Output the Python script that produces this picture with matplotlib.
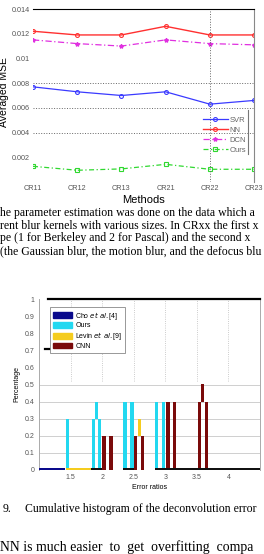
import matplotlib
matplotlib.use('Agg')
import matplotlib.pyplot as plt
from matplotlib.patches import Patch

# ── top chart: averaged MSE per method ──────────────────────────────
methods = ['CR11', 'CR12', 'CR13', 'CR21', 'CR22', 'CR23']
svr = [0.0077, 0.0073, 0.0070, 0.0073, 0.0063, 0.0066]
nn = [0.0122, 0.0119, 0.0119, 0.0126, 0.0119, 0.0119]
dcn = [0.0115, 0.0112, 0.0110, 0.0115, 0.0112, 0.0111]
ours = [0.00127, 0.00095, 0.00106, 0.00143, 0.00103, 0.00103]
mse_ticks = [0.002, 0.004, 0.006, 0.008, 0.01, 0.012, 0.014]
mse_ticklabels = ['0.002', '0.004', '0.006', '0.008', '0.01', '0.012', '0.014']

# ── bottom chart: cumulative histogram strips (center, bottom, top) ─
ours_x = [1.45, 1.86, 1.91, 1.96, 2.36, 2.47, 2.86, 2.97]
ours_lo = [0.0, 0.0, 0.3, 0.0, 0.0, 0.0, 0.0, 0.0]
ours_hi = [0.3, 0.3, 0.4, 0.3, 0.4, 0.4, 0.4, 0.4]
cnn_x = [2.03, 2.14, 2.53, 2.64, 3.04, 3.15, 3.54, 3.59, 3.65]
cnn_lo = [0.0, 0.0, 0.0, 0.0, 0.0, 0.0, 0.0, 0.4, 0.0]
cnn_hi = [0.2, 0.2, 0.2, 0.2, 0.4, 0.4, 0.4, 0.5, 0.4]
levin_x = [2.59]
levin_lo = [0.2]
levin_hi = [0.3]
# zero-level segments along the floor
floor_start = [1.00, 1.42, 1.83, 2.33, 2.83]
floor_end = [1.41, 1.83, 2.00, 2.50, 4.50]
floor_series = ['Cho', 'Levin', 'zero', 'zero', 'zero']
err_ticks = [1.5, 2, 2.5, 3, 3.5, 4]
err_ticklabels = ['1.5', '2', '2.5', '3', '3.5', '4']
pct_ticks = [0, 0.1, 0.2, 0.3, 0.4, 0.5, 0.6, 0.7, 0.8, 0.9, 1]
pct_ticklabels = ['0', '0.1', '0.2', '0.3', '0.4', '0.5', '0.6', '0.7', '0.8', '0.9', '1']

body_lines = [
    "he parameter estimation was done on the data which a",
    "rent blur kernels with various sizes. In CRxx the first x",
    "pe (1 for Berkeley and 2 for Pascal) and the second x",
    "(the Gaussian blur, the motion blur, and the defocus blu",
]
caption_num = "9."
caption = "Cumulative histogram of the deconvolution error"
tail_line = "NN is much easier  to  get  overfitting  compa"

plt.rcParams['font.family'] = ['Liberation Sans', 'DejaVu Sans']

W, H = 264, 554
fig = plt.figure(figsize=(W / 100, H / 100), dpi=100)


def box(l, t, r, b):
    """Pixel box (left, top, right, bottom) -> figure fraction rect."""
    return [l / W, 1 - b / H, (r - l) / W, (b - t) / H]


# ── top chart ───────────────────────────────────────────────────────
ax1 = fig.add_axes(box(33, 9, 254, 182))
xs = list(range(len(methods)))
ax1.plot(xs, svr, color='#3a3aff', lw=0.9, marker='o', ms=2.8, mfc='none', mew=0.8, label='SVR')
ax1.plot(xs, nn, color='#ff3030', lw=1.0, marker='o', ms=2.8, mfc='none', mew=0.8, label='NN')
ax1.plot(xs, dcn, color='#e030e0', lw=0.9, ls=(0, (5, 2, 1, 2)), marker='*', ms=3, label='DCN')
ax1.plot(xs, ours, color='#30d830', lw=0.9, ls=(0, (4, 2, 1, 2)), marker='s', ms=3, mfc='none',
         mew=0.8, label='Ours')
ax1.set_xlim(0, 5)
ax1.set_ylim(0, 0.014)
ax1.set_xticks(xs, methods)
ax1.set_yticks(mse_ticks, mse_ticklabels)
ax1.tick_params(length=0, labelsize=5.2, labelcolor='#555555', pad=2)
for y in (0.004, 0.006, 0.008):
    ax1.axhline(y, color='#666666', ls=':', lw=0.7)
ax1.axvline(4, color='#666666', ls=':', lw=0.7)
for s in ('left', 'bottom'):
    ax1.spines[s].set_visible(False)
ax1.spines['top'].set_linewidth(0.8)
ax1.spines['right'].set_color('#888888')
ax1.set_xlabel('Methods', fontsize=8, labelpad=2)
ax1.set_ylabel('Averaged MSE', fontsize=7.5, labelpad=1)
ax1.yaxis.set_label_coords(-0.108, 0.52)
leg1 = ax1.legend(loc='lower right', bbox_to_anchor=(0.99, 0.13), frameon=False, fontsize=5.5,
                  handlelength=3.2, handletextpad=0.3, labelspacing=0.35, borderpad=0.2)
for t in leg1.get_texts():
    t.set_color('#666666')
ax1.plot([4.87, 4.87], [0.0023, 0.0058], color='#777777', lw=0.8)

# ── body text ───────────────────────────────────────────────────────
serif = ['Liberation Serif', 'DejaVu Serif']
for i, line in enumerate(body_lines):
    fig.text(0 / W, 1 - (213 + 12.7 * i) / H, line, family=serif, fontsize=8.45,
             va='center', ha='left')

# ── bottom chart ────────────────────────────────────────────────────
ax2 = fig.add_axes(box(39, 299, 260, 470))
colors = {'Cho': '#0a0a8c', 'Ours': '#22d8f0', 'Levin': '#f5cc1e', 'CNN': '#7a0a0a', 'zero': '#111111'}
bw = 0.055
for xs_, lo, hi, key in ((ours_x, ours_lo, ours_hi, 'Ours'), (cnn_x, cnn_lo, cnn_hi, 'CNN'),
                         (levin_x, levin_lo, levin_hi, 'Levin')):
    ax2.bar(xs_, [h - l for h, l in zip(hi, lo)], bottom=lo, width=bw, color=colors[key], zorder=3)
for a, b, key in zip(floor_start, floor_end, floor_series):
    ax2.bar(a, 0.014, width=b - a, align='edge', color=colors[key], zorder=4)
ax2.set_xlim(1, 4.5)
ax2.set_ylim(0, 1)
ax2.set_xticks(err_ticks, err_ticklabels)
ax2.set_yticks(pct_ticks, pct_ticklabels)
ax2.tick_params(length=0, labelsize=5, labelcolor='#555555', pad=3)
for y in (0.1, 0.2, 0.3, 0.4, 0.5):
    ax2.axhline(y, color='#cfcfcf', lw=0.7, zorder=1)
for xv in err_ticks:
    ax2.axvline(xv, ymin=0.52, color='#bbbbbb', ls=':', lw=0.6, zorder=1)
for s in ('top', 'bottom'):
    ax2.spines[s].set_visible(False)
for s in ('left', 'right'):
    ax2.spines[s].set_color('#aaaaaa')
    ax2.spines[s].set_linewidth(0.7)
ax2.plot([1.14, 4.5], [1, 1], color='black', lw=1.6, clip_on=False, zorder=5)
ax2.plot([1.09, 2.23], [0.71, 0.71], color='black', lw=1.6, zorder=5)
ax2.set_xlabel('Error ratios', fontsize=5, labelpad=2)
ax2.set_ylabel('Percentage', fontsize=5, labelpad=3)
handles = [Patch(color=colors['Cho']), Patch(color=colors['Ours']),
           Patch(color=colors['Levin']), Patch(color=colors['CNN'])]
labels = [r'Cho $\it{et\ al.}$[4]', 'Ours', r'Levin $\it{et\ al.}$[9]', 'CNN']
leg2 = ax2.legend(handles, labels, loc='upper left', bbox_to_anchor=(0.035, 0.975), fontsize=5,
                  handlelength=2.8, handleheight=0.8, handletextpad=0.4, labelspacing=0.12,
                  borderpad=0.4, fancybox=False, framealpha=1, edgecolor='#888888')
leg2.get_frame().set_linewidth(0.6)
leg2.set_zorder(6)

# ── caption and tail text ───────────────────────────────────────────
fig.text(3 / W, 1 - 509 / H, caption_num, family=serif, fontsize=8.5, va='center')
fig.text(25 / W, 1 - 509 / H, caption, family=serif, fontsize=8.5, va='center')
fig.text(0, 1 - 551 / H, tail_line, family=serif, fontsize=9.9, va='baseline')

fig.savefig('out.png', dpi=100)
